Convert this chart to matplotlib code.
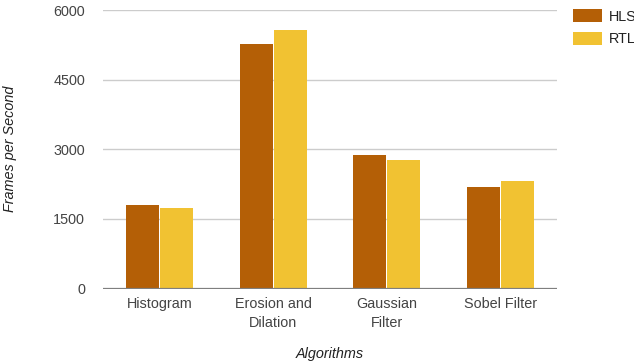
import numpy as np
import matplotlib
matplotlib.use("Agg")
import matplotlib.pyplot as plt

plt.rcParams['font.family'] = ['Liberation Sans', 'DejaVu Sans']

# data
algorithms = ["Histogram", "Erosion and\nDilation", "Gaussian\nFilter", "Sobel Filter"]
hls_fps = [1800, 5260, 2875, 2195]
rtl_fps = [1740, 5570, 2770, 2320]
series_names = ["HLS", "RTL"]
yticks = [0, 1500, 3000, 4500, 6000]

hls_color = "#b45f06"
rtl_color = "#f1c232"
fs = 10.4

fig = plt.figure(figsize=(6.34, 3.64), dpi=100)
ax = fig.add_axes([0.1625, 0.2074, 0.716, 0.7651])

x = np.arange(len(algorithms))
w = 0.3
ax.bar(x - w / 2, hls_fps, width=w - 0.008, color=hls_color, label=series_names[0], zorder=3)
ax.bar(x + w / 2, rtl_fps, width=w - 0.008, color=rtl_color, label=series_names[1], zorder=3)

ax.set_xlim(-0.5, len(algorithms) - 0.5)
ax.set_ylim(0, 6000)
ax.set_yticks(yticks)
ax.set_yticklabels([str(v) for v in yticks])
ax.set_xticks(x)
ax.set_xticklabels(algorithms, linespacing=1.45, va="top")

ax.grid(axis="y", color="#cccccc", linewidth=1, zorder=0)
ax.axhline(0, color="#7f7f7f", linewidth=1.6, zorder=4)
for s in ax.spines.values():
    s.set_visible(False)
ax.tick_params(axis="both", length=0, labelsize=fs, colors="#444444")
ax.tick_params(axis="y", pad=13)
ax.tick_params(axis="x", pad=6)

ax.set_ylabel("Frames per Second", fontsize=fs, style="italic", color="#222222")
ax.yaxis.set_label_coords(-0.19, 0.5)
ax.set_xlabel("Algorithms", fontsize=fs, style="italic", color="#222222")
ax.xaxis.set_label_coords(0.5, -0.21)

leg = fig.legend(loc="upper left", bbox_to_anchor=(0.9035, 0.975), frameon=False,
                 fontsize=fs, handlelength=2.0, handleheight=1.05,
                 handletextpad=0.5, labelspacing=0.55, borderaxespad=0, borderpad=0)
for t in leg.get_texts():
    t.set_color("#222222")

fig.savefig("out.png", dpi=100)
